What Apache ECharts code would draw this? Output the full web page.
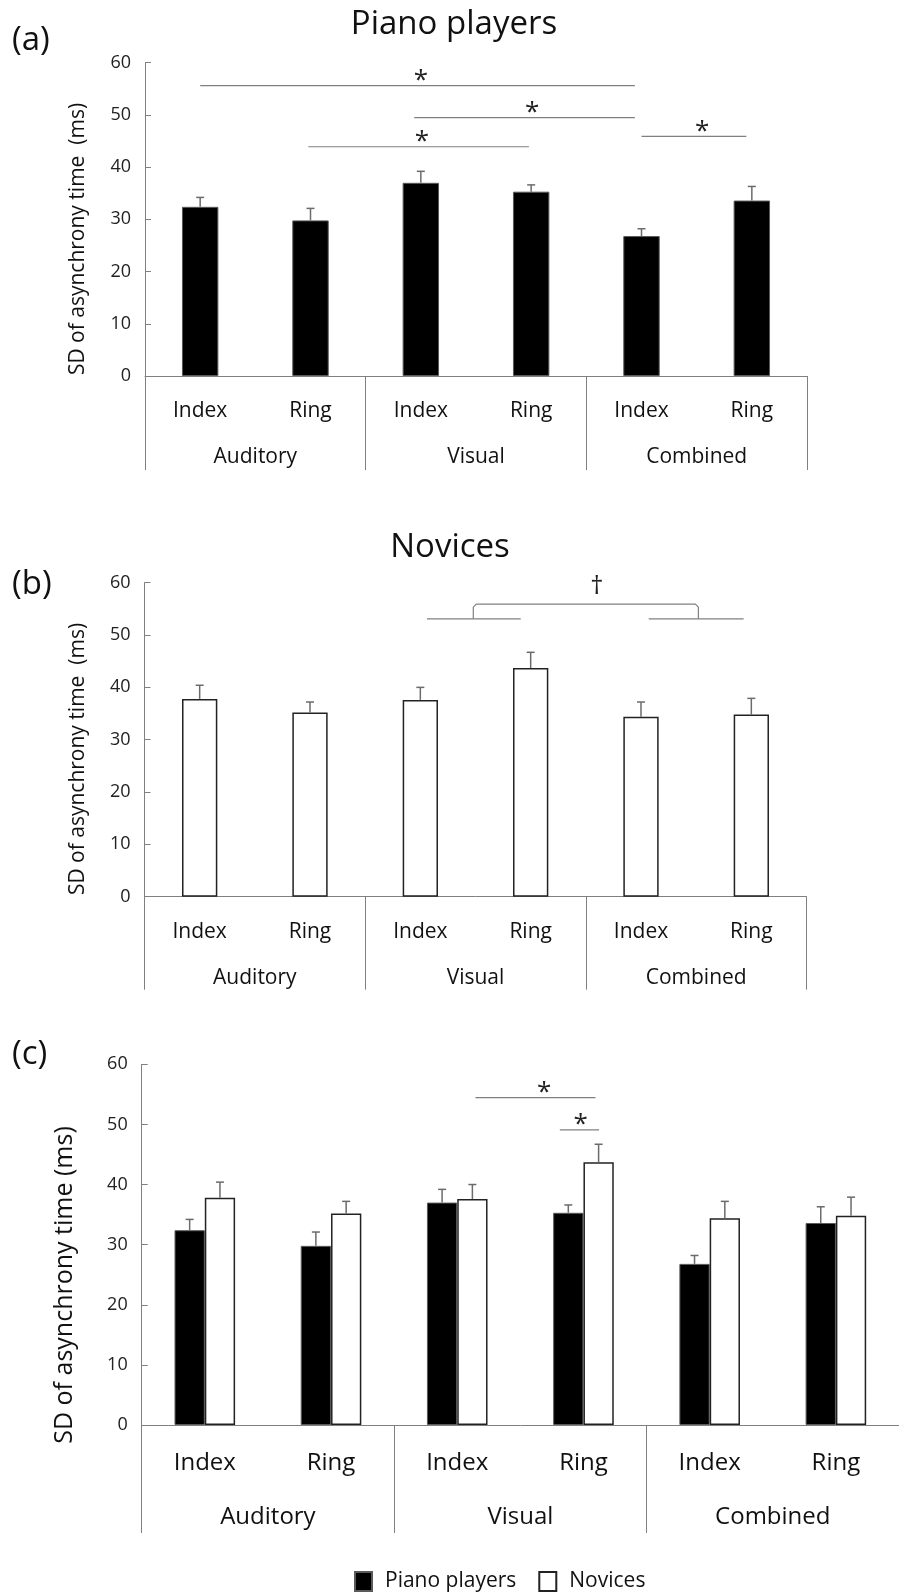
<!DOCTYPE html>
<html>
<head>
<meta charset="utf-8">
<script src="https://cdn.jsdelivr.net/npm/echarts@6/dist/echarts.min.js"></script>
<style>
  html, body { margin: 0; padding: 0; background: #fff; }
  #chart { width: 899px; height: 1596px; }
</style>
</head>
<body>
<div id="chart"></div>
<script>
// data
const fingers = ['Index', 'Ring', 'Index', 'Ring', 'Index', 'Ring'];
const conditions = ['Auditory', 'Visual', 'Combined'];
const yTicks = [0, 10, 20, 30, 40, 50, 60];
const pianoMean = [32.4, 29.8, 37.0, 35.3, 26.8, 33.6];
const pianoSE = [1.8, 2.3, 2.2, 1.3, 1.4, 2.7];
const noviceMean = [37.8, 35.2, 37.6, 43.7, 34.4, 34.8];
const noviceSE = [2.6, 2.0, 2.4, 3.0, 2.8, 3.1];

// significance lines: [from, to, y, markPos] (positions in category units, 0 = first bar)
const sigA = [[0, 3.94, 55.6, 2.0], [1.94, 3.94, 49.5, 3.01], [0.98, 2.98, 43.9, 2.01], [4.0, 4.95, 45.9, 4.55]];
const sigAMarks = ['*', '*', '*', '*'];
const sigB = [[2.06, 2.91, 53.1], [4.07, 4.93, 53.1]];
const bracketB = [[2.48, 4.52, 55.9, 53.1, 3.6]];
const bracketBMarks = ['†'];
const sigC = [[2.144, 3.095, 54.45, 2.688], [2.813, 3.124, 49.1, 2.978]];
const sigCMarks = ['*', '*'];

const FONT = 'Open Sans';
const GREY = '#808080';
const chart = echarts.init(document.getElementById('chart'));

function errBars(offsetFrac) {
  return function (params, api) {
    const i = api.value(0);
    const bw = api.size([1, 0])[0];
    const x = api.coord([i, 0])[0] + offsetFrac * bw;
    const y0 = api.coord([i, api.value(1)])[1];
    const y1 = api.coord([i, api.value(1) + api.value(2)])[1];
    const st = { stroke: '#6b6b6b', lineWidth: 1.5 };
    return {
      type: 'group',
      children: [
        { type: 'line', shape: { x1: x, y1: y0, x2: x, y2: y1 }, style: st },
        { type: 'line', shape: { x1: x - 4, y1: y1, x2: x + 4, y2: y1 }, style: st }
      ]
    };
  };
}

function sigLines(marks, fontSize) {
  return function (params, api) {
    const bw = api.size([1, 0])[0];
    const y = api.coord([0, api.value(1)])[1];
    const x0 = api.coord([0, 0])[0];
    const children = [{
      type: 'line',
      shape: { x1: x0 + api.value(2) * bw, y1: y, x2: x0 + api.value(3) * bw, y2: y },
      style: { stroke: GREY, lineWidth: 1.2 }
    }];
    if (marks) {
      children.push({
        type: 'text',
        x: x0 + api.value(4) * bw, y: y - 5,
        style: { text: marks[params.dataIndex], fontSize: fontSize, fontFamily: FONT, fill: '#222', textAlign: 'center', textVerticalAlign: 'middle' }
      });
    }
    return { type: 'group', children: children };
  };
}

function bracket(params, api) {
  const bw = api.size([1, 0])[0];
  const x0 = api.coord([0, 0])[0];
  const yTop = api.coord([0, api.value(3)])[1];
  const yBot = api.coord([0, api.value(4)])[1];
  const xa = x0 + api.value(1) * bw, xb = x0 + api.value(2) * bw;
  return {
    type: 'group',
    children: [
      { type: 'polyline', shape: { points: [[xa, yBot], [xa, yTop + 3], [xa + 3, yTop], [xb - 3, yTop], [xb, yTop + 3], [xb, yBot]] },
        style: { stroke: GREY, lineWidth: 1.2, fill: null } },
      { type: 'text', x: x0 + api.value(5) * bw, y: yTop - 18,
        style: { text: bracketBMarks[params.dataIndex], fontSize: 26, fontFamily: FONT, fill: '#222', textAlign: 'center', textVerticalAlign: 'middle' } }
    ]
  };
}

function yAxis(grid) {
  return {
    type: 'value', gridIndex: grid, min: yTicks[0], max: yTicks[yTicks.length - 1], interval: 10,
    axisLine: { show: true, lineStyle: { color: GREY, width: 1 } },
    axisTick: { show: true, inside: true, length: 6, lineStyle: { color: GREY } },
    axisLabel: { fontSize: 18, color: '#222', margin: 14, fontFamily: FONT },
    splitLine: { show: false }
  };
}

function xAxes(grid, fontSize, m1, m2, tickLen) {
  return [
    {
      type: 'category', gridIndex: grid, data: fingers, position: 'bottom',
      axisLine: { show: true, lineStyle: { color: GREY, width: 1 } },
      axisTick: { show: false },
      axisLabel: { fontSize: fontSize, lineHeight: fontSize + 1, margin: m1, color: '#111', fontFamily: FONT, interval: 0 }
    },
    {
      type: 'category', gridIndex: grid, data: conditions, position: 'bottom',
      axisLine: { show: false },
      axisTick: { show: true, length: tickLen, lineStyle: { color: GREY, width: 1 } },
      axisLabel: { fontSize: fontSize, lineHeight: fontSize + 1, margin: m2, color: '#111', fontFamily: FONT, interval: 0 }
    }
  ];
}

const errData = (mean, se) => mean.map((m, i) => [i, m, se[i]]);
const sigData = arr => arr.map(s => [0, s[2], s[0], s[1], s.length > 3 ? s[3] : 0]);

function rotLabel(x, y, text, size) {
  return {
    type: 'text', x: x, y: y, rotation: Math.PI / 2,
    style: { text: text, fontSize: size, fontFamily: FONT, fill: '#111', textAlign: 'center', textVerticalAlign: 'middle' }
  };
}
function plainText(x, y, text, size, align) {
  return {
    type: 'text', x: x, y: y,
    style: { text: text, fontSize: size, fontFamily: FONT, fill: '#111', textAlign: align, textVerticalAlign: 'middle' }
  };
}

const blackStyle = { color: '#000', borderColor: '#5a5a5a', borderWidth: 1 };
const whiteStyle = { color: '#fff', borderColor: '#222', borderWidth: 1.5 };

chart.setOption({
  animation: false,
  textStyle: { fontFamily: FONT },
  grid: [
    { left: 145, top: 62.7, width: 662, height: 313.3 },
    { left: 144.5, top: 582.7, width: 662, height: 314 },
    { left: 141.7, top: 1064.3, width: 771.6, height: 360.7 }
  ],
  xAxis: [].concat(
    xAxes(0, 21, 24, 70, 94),
    xAxes(1, 21, 24, 70, 93),
    xAxes(2, 24, 26, 80, 108)
  ),
  yAxis: [yAxis(0), yAxis(1), yAxis(2)],
  legend: {
    left: 354, top: 1571, padding: 0, icon: 'rect',
    itemWidth: 17, itemHeight: 19, itemGap: 22,
    data: ['Piano players', 'Novices'],
    textStyle: { fontSize: 21, color: '#111', fontFamily: FONT, padding: [0, 0, 0, 8] }
  },
  graphic: [
    plainText(454, 25, 'Piano players', 33, 'center'),
    plainText(450, 548, 'Novices', 33, 'center'),
    plainText(12, 41, '(a)', 33, 'left'),
    plainText(12, 585, '(b)', 33, 'left'),
    plainText(12, 1055, '(c)', 33, 'left'),
    rotLabel(78, 239, 'SD of asynchrony time  (ms)', 21),
    rotLabel(78, 759, 'SD of asynchrony time  (ms)', 21),
    rotLabel(65, 1285, 'SD of asynchrony time (ms)', 25)
  ],
  series: [
    // (a) piano players
    { name: 'Piano players', type: 'bar', xAxisIndex: 0, yAxisIndex: 0, data: pianoMean, barWidth: '33%', itemStyle: blackStyle },
    { type: 'custom', xAxisIndex: 0, yAxisIndex: 0, data: errData(pianoMean, pianoSE), encode: { x: 0, y: 1 }, renderItem: errBars(0), z: 3 },
    { type: 'custom', xAxisIndex: 0, yAxisIndex: 0, data: sigData(sigA), encode: { x: 0, y: 1 }, renderItem: sigLines(sigAMarks, 26), z: 3 },
    // (b) novices
    { name: 'Novices', type: 'bar', xAxisIndex: 2, yAxisIndex: 1, data: noviceMean, barWidth: '32%', itemStyle: whiteStyle },
    { type: 'custom', xAxisIndex: 2, yAxisIndex: 1, data: errData(noviceMean, noviceSE), encode: { x: 0, y: 1 }, renderItem: errBars(0), z: 3 },
    { type: 'custom', xAxisIndex: 2, yAxisIndex: 1, data: sigData(sigB), encode: { x: 0, y: 1 }, renderItem: sigLines(null, 26), z: 3 },
    { type: 'custom', xAxisIndex: 2, yAxisIndex: 1, data: bracketB.map(b => [0, b[0], b[1], b[2], b[3], b[4]]), encode: { x: 0, y: 3 }, renderItem: bracket, z: 3 },
    // (c) both groups
    { name: 'Piano players', type: 'bar', xAxisIndex: 4, yAxisIndex: 2, data: pianoMean, barWidth: '24%', barGap: '0%', itemStyle: blackStyle },
    { name: 'Novices', type: 'bar', xAxisIndex: 4, yAxisIndex: 2, data: noviceMean, barWidth: '24%', barGap: '0%', itemStyle: whiteStyle },
    { type: 'custom', xAxisIndex: 4, yAxisIndex: 2, data: errData(pianoMean, pianoSE), encode: { x: 0, y: 1 }, renderItem: errBars(-0.12), z: 3 },
    { type: 'custom', xAxisIndex: 4, yAxisIndex: 2, data: errData(noviceMean, noviceSE), encode: { x: 0, y: 1 }, renderItem: errBars(0.12), z: 3 },
    { type: 'custom', xAxisIndex: 4, yAxisIndex: 2, data: sigData(sigC), encode: { x: 0, y: 1 }, renderItem: sigLines(sigCMarks, 26), z: 3 }
  ]
});
</script>
</body>
</html>
